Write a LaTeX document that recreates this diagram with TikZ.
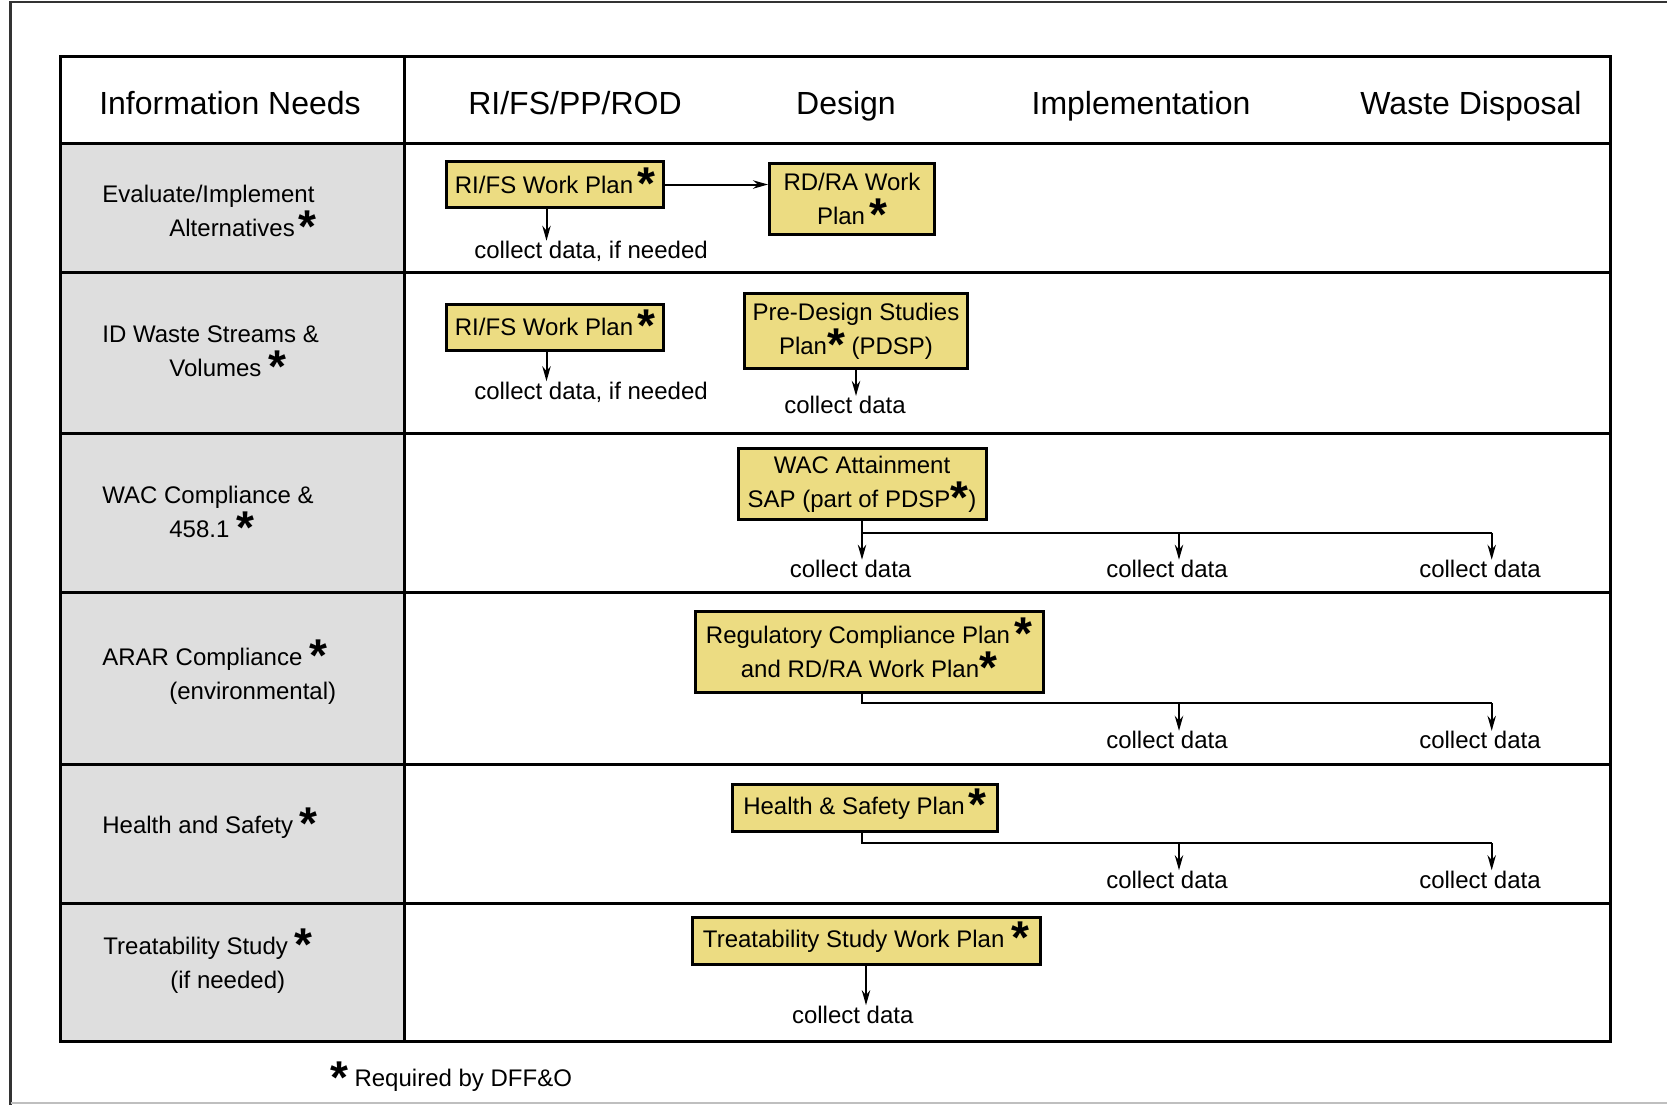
\documentclass[tikz,border=0pt]{standalone}
\usepackage{fontspec}
\setmainfont{Liberation Sans}
\usepackage{tikz}
\usetikzlibrary{arrows.meta, positioning}

\definecolor{needgray}{RGB}{222,222,222}
\definecolor{planyellow}{RGB}{236,220,130}
\newcommand{\req}{\smash{\raisebox{-3.2pt}{\fontsize{23}{23}\selectfont\bfseries *}}}

\begin{document}
\begin{tikzpicture}[x=0.5pt, y=-0.5pt, >={Stealth[length=7.5pt, width=4.2pt]}, font=\fontsize{12}{17}\selectfont]
	\tikzstyle{plan}=[draw=black, line width=1.5pt, fill=planyellow, align=center, inner sep=2pt]
	\tikzstyle{data}=[inner sep=0pt, anchor=base]
	\tikzstyle{need}=[align=left, anchor=west, inner sep=0pt]
	\tikzstyle{head}=[font=\fontsize{16}{20}\selectfont, anchor=base]
	\tikzstyle{grid}=[line width=1.5pt]
	\tikzstyle{flow}=[->, line width=1pt]
	\tikzstyle{trunk}=[line width=1pt]

	\useasboundingbox (0,0) rectangle (1667,1105);
	% outer frame
	\draw[line width=1.2pt, black!80] (1667,2) -- (10.6,2) -- (10.6,1105);
	\draw[line width=1pt, black!25] (10.6,1103) -- (1667,1103);

	% table
	\fill[needgray] (60.6,143.5) rectangle (404,1041);
	\draw[grid] (60.6,56.4) rectangle (1610.8,1041);
	\draw[grid] (404,56.4) -- (404,1041);
	\foreach \y in {143.5,272.2,433.8,592.2,764.4,903.7}
		\draw[grid] (60.6,\y) -- (1610.8,\y);

	% headers
	\node[head] (hneeds) at (230,114.8) {Information Needs};
	\node[head] (hrod) at (575,114.3) {RI/FS/PP/ROD};
	\node[head] (hdesign) at (846,114.3) {Design};
	\node[head] (himpl) at (1141,114.3) {Implementation};
	\node[head] (hwaste) at (1471,114.3) {Waste Disposal};

	% information needs
	\node[need] (n1) at (102,211) {Evaluate/Implement\\\hspace*{33.5pt}Alternatives\,\req};
	\node[need] (n2) at (102,351) {ID Waste Streams \&\\\hspace*{33.5pt}Volumes \req};
	\node[need] (n3) at (102,512) {WAC Compliance \&\\\hspace*{33.5pt}458.1 \req};
	\node[need] (n4) at (102,676) {ARAR Compliance \req\\\hspace*{33.5pt}(environmental)};
	\node[need] (n5) at (102,827) {Health and Safety \req};
	\node[need] (n6) at (103,965) {Treatability Study \req\\\hspace*{33.5pt}(if needed)};

	% plans
	\node[plan, minimum width=108.5pt, minimum height=23pt] (rifsA) at (555,184.5) {RI/FS Work Plan\,\req};
	\node[plan, minimum width=82.5pt, minimum height=35.5pt] (rdra) at (852,199) {RD/RA Work\\Plan\,\req};
	\node[plan, minimum width=108.5pt, minimum height=23pt] (rifsB) at (555,327) {RI/FS Work Plan\,\req};
	\node[plan, minimum width=111.5pt, minimum height=37.5pt] (pdsp) at (856,331) {Pre-Design Studies\\Plan\req\ (PDSP)};
	\node[plan, minimum width=124pt, minimum height=35.5pt] (wacsap) at (862,484) {WAC Attainment\\SAP (part of PDSP\req)};
	\node[plan, minimum width=174pt, minimum height=40.5pt] (rcp) at (869,652) {Regulatory Compliance Plan\,\req\\and RD/RA Work Plan\req};
	\node[plan, minimum width=132.5pt, minimum height=23.5pt] (hsp) at (865,808) {Health \& Safety Plan\,\req};
	\node[plan, minimum width=174pt, minimum height=23.5pt] (tswp) at (866,941) {Treatability Study Work Plan \req};

	% data collection
	\node[data] (c1) at (591,258.5) {collect data, if needed};
	\node[data] (c2a) at (591,399) {collect data, if needed};
	\node[data] (c2b) at (845,413.7) {collect data};
	\node[data] (c3a) at (850.6,577.5) {collect data};
	\node[data] (c3b) at (1167,577.5) {collect data};
	\node[data] (c3c) at (1480,577.5) {collect data};
	\node[data] (c4b) at (1167,748.6) {collect data};
	\node[data] (c4c) at (1480,748.6) {collect data};
	\node[data] (c5b) at (1167,888) {collect data};
	\node[data] (c5c) at (1480,888) {collect data};
	\node[data] (c6) at (852.7,1023) {collect data};

	\coordinate (j3a) at (862,532.7);
	\coordinate (j3b) at (1179,532.7);
	\coordinate (j3c) at (1491.7,532.7);
	\coordinate (j4a) at (862,703);
	\coordinate (j4b) at (1179,703);
	\coordinate (j4c) at (1491.7,703);
	\coordinate (j5a) at (862,843);
	\coordinate (j5b) at (1179,843);
	\coordinate (j5c) at (1491.7,843);

	% connectors
	\draw[flow] (rifsA.east) -- (rifsA.east -| rdra.west);
	\draw[flow] ([xshift=-4.25pt]rifsA.south) -- ([xshift=-4.25pt]rifsA.south |- c1.north);
	\draw[flow] ([xshift=-4.25pt]rifsB.south) -- ([xshift=-4.25pt]rifsB.south |- c2a.north);
	\draw[flow] (pdsp.south) -- (pdsp.south |- c2b.north);
	\draw[trunk] (wacsap.south -| j3a) -- (j3a) -- (j3c);
	\foreach \j/\c in {j3a/c3a, j3b/c3b, j3c/c3c}
		\draw[flow] (\j) -- (\j |- \c.north);
	\draw[trunk] (rcp.south -| j4a) -- (j4a) -- (j4c);
	\foreach \j/\c in {j4b/c4b, j4c/c4c}
		\draw[flow] (\j) -- (\j |- \c.north);
	\draw[trunk] (hsp.south -| j5a) -- (j5a) -- (j5c);
	\foreach \j/\c in {j5b/c5b, j5c/c5c}
		\draw[flow] (\j) -- (\j |- \c.north);
	\draw[flow] (tswp.south) -- (tswp.south |- c6.north);

	% footnote
	\node[data, anchor=base west] (note) at (329.6,1086.6) {\req\ Required by DFF\&O};
\end{tikzpicture}
\end{document}
